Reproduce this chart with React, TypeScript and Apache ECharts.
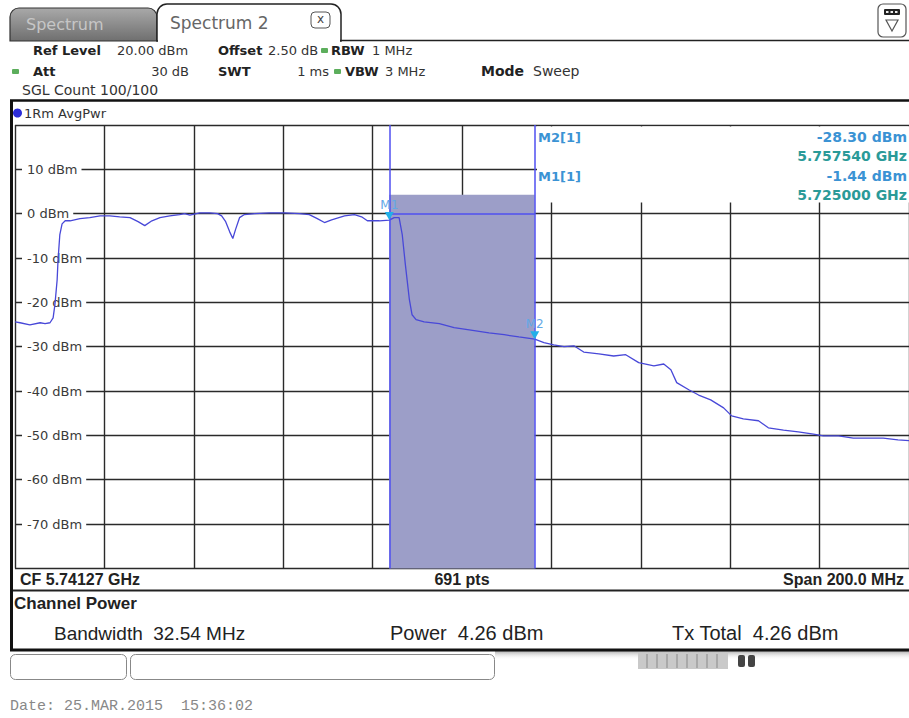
import React, { useEffect, useRef } from "react";
import * as echarts from "echarts";

// ---- Instrument settings ----
const CENTER_FREQ_MHZ = 5741.27;
const SPAN_MHZ = 200;
const X_DIVISIONS = 10;
const Y_MAX_DBM = 20;
const Y_MIN_DBM = -80;
const Y_STEP_DB = 10;
const SWEEP_POINTS = 691;

// ---- Trace 1 (AvgPwr) ----
const traceFreqMHz = [
  5641.3, 5642.4, 5644.6, 5646.9, 5648.0, 5649.1, 5649.8, 5650.2, 5650.7, 5650.9,
  5651.3, 5651.8, 5652.5, 5653.6, 5655.8, 5658.0, 5660.3, 5662.5, 5664.7, 5667.0,
  5668.8, 5670.3, 5671.9, 5673.7, 5675.9, 5678.1, 5679.2, 5680.4, 5682.6, 5684.8,
  5686.6, 5687.5, 5688.4, 5689.3, 5690.0, 5690.6, 5691.5, 5692.6, 5694.9, 5698.2,
  5701.6, 5704.9, 5707.1, 5708.9, 5710.5, 5712.1, 5715.0, 5717.2, 5718.8, 5720.1,
  5722.8, 5725.0, 5726.1, 5727.2, 5727.9, 5728.6, 5729.5, 5730.1, 5731.0, 5732.8,
  5736.2, 5739.5, 5742.9, 5747.3, 5750.7, 5754.0, 5757.54, 5759.6, 5761.8, 5764.1,
  5766.3, 5768.5, 5771.9, 5775.2, 5777.9, 5780.8, 5784.2, 5786.4, 5788.0, 5789.3,
  5792.0, 5794.2, 5796.9, 5799.8, 5801.6, 5804.2, 5807.6, 5809.8, 5813.2, 5816.5,
  5819.9, 5822.1, 5825.5, 5828.8, 5832.1, 5835.5, 5838.8, 5841.3,
];
const traceLevelDbm = [
  -24.4, -24.6, -25.1, -24.6, -24.8, -24.6, -23.5, -20.5, -14.9, -10.4,
  -4.7, -2.3, -1.6, -1.6, -1.1, -0.9, -0.5, -0.5, -0.7, -0.9,
  -1.8, -2.7, -1.6, -0.9, -0.5, -0.2, 0.0, -0.3, 0.2, 0.2,
  0.0, -0.5, -1.8, -4.1, -5.6, -3.6, -0.9, -0.2, 0.0, 0.2,
  0.2, 0.0, -0.2, -1.1, -2.0, -1.4, -0.5, -0.2, -0.7, -1.6,
  -1.6, -1.44, -0.9, -0.9, -4.7, -11.5, -19.4, -22.8, -23.9, -24.4,
  -24.8, -25.7, -26.2, -26.9, -27.3, -27.8, -28.3, -29.1, -29.6, -30.0,
  -29.8, -31.2, -31.6, -32.1, -31.8, -33.6, -34.3, -33.9, -35.2, -38.1,
  -39.7, -40.9, -42.0, -43.8, -45.6, -46.3, -46.7, -48.3, -48.8, -49.2,
  -49.7, -50.1, -50.1, -50.6, -50.6, -50.6, -51.0, -51.2,
];

// ---- Markers ----
const markerNames = ["M1", "M2"];
const markerFreqMHz = [5725.0, 5757.54];
const markerLevelDbm = [-1.44, -28.3];

// ---- Channel power ----
const channelPowerDbm = 4.26;
const channelTxTotalDbm = 4.26;
const channelBandwidthMHz = 32.54;
const channelDisplayLineDbm = 0;

const START_MHZ = CENTER_FREQ_MHZ - SPAN_MHZ / 2;
const X_STEP = SPAN_MHZ / X_DIVISIONS;
const toX = (f: number) => +(f - START_MHZ).toFixed(3);

const FONT = '"DejaVu Sans", Verdana, sans-serif';
const FONT_L = '"Liberation Sans", Arial, sans-serif';
const FONT_M = '"Liberation Mono", "DejaVu Sans Mono", monospace';

type TOpt = { fill?: string; size?: number; bold?: boolean; align?: string; family?: string; z?: number };
function txt(text: string, x: number, y: number, o: TOpt = {}) {
  return {
    type: "text",
    x,
    y,
    z: o.z ?? 20,
    style: {
      text,
      fill: o.fill ?? "#222",
      fontSize: o.size ?? 13,
      fontFamily: o.family ?? FONT,
      fontWeight: o.bold ? "bold" : "normal",
      align: o.align ?? "left",
      verticalAlign: "middle",
    },
  };
}
function rect(x: number, y: number, w: number, h: number, style: any, r: any = 0, z = 10) {
  return { type: "rect", z, shape: { x, y, width: w, height: h, r }, style };
}
function line(x1: number, y1: number, x2: number, y2: number, stroke: string, lw: number, z = 10) {
  return { type: "line", z, shape: { x1, y1, x2, y2 }, style: { stroke, lineWidth: lw } };
}

export default function App() {
  const ref = useRef<HTMLDivElement>(null);

  useEffect(() => {
    if (!ref.current) return;
    const chart = echarts.init(ref.current, null, { renderer: "svg" });

    const m = markerNames.map((n, i) => ({
      name: n,
      x: toX(markerFreqMHz[i]),
      y: markerLevelDbm[i],
      ghz: (markerFreqMHz[i] / 1000).toFixed(6) + " GHz",
      dbm: markerLevelDbm[i].toFixed(2) + " dBm",
    }));

    const green = "#5cae5c";
    const markerBlue = "#3b93d4";
    const markerTeal = "#2a9a98";

    const graphics: any[] = [
      // tabs
      rect(10, 8, 147, 33, {
        fill: new echarts.graphic.LinearGradient(0, 0, 0, 1, [
          { offset: 0, color: "#a9a9a9" },
          { offset: 1, color: "#6f6f6f" },
        ]),
        stroke: "#333",
        lineWidth: 1.2,
      }, [9, 9, 0, 0]),
      txt("Spectrum", 26, 24, { fill: "#c6c6c6", size: 16 }),
      rect(157, 4, 184, 37, { fill: "#fff", stroke: "#222", lineWidth: 1.5 }, [10, 10, 0, 0]),
      rect(158, 39, 182, 3, { fill: "#fff" }, 0, 11),
      txt("Spectrum 2", 170, 23, { fill: "#666", size: 17 }),
      rect(311, 12, 19, 16, { fill: "#fff", stroke: "#555", lineWidth: 1 }, 4, 12),
      txt("x", 320.5, 19, { fill: "#444", size: 12, align: "center" }),
      line(340, 40.5, 909, 40.5, "#222", 1.5),
      // top-right icon
      rect(878, 4, 28, 33, { fill: "#fff", stroke: "#555", lineWidth: 1.2 }, 5, 12),
      rect(884, 9, 16, 6, { fill: "#222" }, 1, 13),
      rect(886, 11, 2.5, 2, { fill: "#eee" }, 0, 14),
      rect(890.5, 11, 2.5, 2, { fill: "#eee" }, 0, 14),
      rect(895, 11, 2.5, 2, { fill: "#eee" }, 0, 14),
      { type: "polygon", z: 13, shape: { points: [[886, 20], [898, 20], [892, 31]] }, style: { fill: "none", stroke: "#555", lineWidth: 1.2 } },

      // info panel
      txt("Ref Level", 33, 50, { bold: true }),
      txt("20.00 dBm", 117, 50, { fill: "#333" }),
      txt("Offset", 218, 50, { bold: true }),
      txt("2.50 dB", 268, 50, { fill: "#333" }),
      rect(321, 48, 7, 5, { fill: green }, 1),
      txt("RBW", 331, 50, { bold: true }),
      txt("1 MHz", 372, 50, { fill: "#333" }),
      rect(12, 69, 7, 5, { fill: green }, 1),
      txt("Att", 33, 71, { bold: true }),
      txt("30 dB", 189, 71, { fill: "#333", align: "right" }),
      txt("SWT", 218, 71, { bold: true }),
      txt("1 ms", 329, 71, { fill: "#333", align: "right" }),
      rect(334, 69, 7, 5, { fill: green }, 1),
      txt("VBW", 345, 71, { bold: true }),
      txt("3 MHz", 385, 71, { fill: "#333" }),
      txt("Mode", 481, 71, { bold: true, size: 14 }),
      txt("Sweep", 533, 71, { fill: "#333", size: 14 }),
      txt("SGL Count 100/100", 22, 90, { fill: "#333", size: 14 }),

      // diagram frame
      line(10, 100.5, 909, 100.5, "#111", 2.5),
      { type: "circle", z: 12, shape: { cx: 17.5, cy: 113, r: 4.5 }, style: { fill: "#2c2cd8" } },
      txt("1Rm AvgPwr", 24, 113, { size: 13, fill: "#333" }),
      rect(10, 100, 3, 551, { fill: "#111" }, 0, 12),
      // marker info box (covers the grid)
      rect(537, 126.5, 374, 76, { fill: "#fff" }, 0, 1),
      txt("M2[1]", 538, 137, { bold: true, fill: markerBlue, size: 13 }),
      txt(m[1].dbm, 907, 137, { bold: true, fill: markerBlue, size: 14, align: "right" }),
      txt(m[1].ghz, 907, 156, { bold: true, fill: markerTeal, size: 14, align: "right" }),
      txt("M1[1]", 538, 176, { bold: true, fill: markerBlue, size: 13 }),
      txt(m[0].dbm, 907, 176, { bold: true, fill: markerBlue, size: 14, align: "right" }),
      txt(m[0].ghz, 907, 195, { bold: true, fill: markerTeal, size: 14, align: "right" }),

      // bottom row of diagram
      txt("CF " + (CENTER_FREQ_MHZ / 1000).toFixed(5) + " GHz", 20, 579, { bold: true, size: 16, family: FONT_L }),
      txt(SWEEP_POINTS + " pts", 462, 579, { bold: true, size: 16, family: FONT_L, align: "center" }),
      txt("Span " + SPAN_MHZ.toFixed(1) + " MHz", 904, 579, { bold: true, size: 16, family: FONT_L, align: "right" }),
      line(10, 590.5, 909, 590.5, "#222", 2),

      // channel power table
      txt("Channel Power", 14, 603, { bold: true, size: 17, family: FONT_L }),
      txt("Bandwidth  " + channelBandwidthMHz.toFixed(2) + " MHz", 54, 633, { size: 19, family: FONT_L }),
      txt("Power  " + channelPowerDbm.toFixed(2) + " dBm", 390, 633, { size: 20, family: FONT_L }),
      txt("Tx Total  " + channelTxTotalDbm.toFixed(2) + " dBm", 672, 633, { size: 20, family: FONT_L }),
      rect(495, 651, 414, 9, {
        fill: new echarts.graphic.LinearGradient(0, 0, 0, 1, [
          { offset: 0, color: "rgba(120,120,120,0.6)" },
          { offset: 1, color: "rgba(255,255,255,0)" },
        ]),
      }, 0, 9),
      line(10, 650, 909, 650, "#111", 3),

      // soft keys / status
      rect(10.5, 654.5, 116, 25, { fill: "#fff", stroke: "#888", lineWidth: 1 }, 5),
      rect(130.5, 654.5, 364, 25, { fill: "#fff", stroke: "#888", lineWidth: 1 }, 5),
      rect(638, 653, 90, 16, { fill: "#c9c9c9" }, 0),
      ...[646, 656, 666, 676, 686, 696, 706, 716].map((x) => rect(x, 654, 2, 14, { fill: "#a9a9a9" }, 0, 11)),
      rect(738, 655, 7, 12, { fill: "#444" }, 2, 11),
      rect(748, 655, 7, 12, { fill: "#444" }, 2, 11),

      txt("Date: 25.MAR.2015  15:36:02", 10, 706, { size: 15, family: FONT_M, fill: "#888" }),
    ];

    const option: any = {
      animation: false,
      backgroundColor: "#fff",
      grid: { left: 15, top: 125, width: 896, height: 443.4, containLabel: false },
      xAxis: {
        type: "value",
        min: 0,
        max: SPAN_MHZ,
        interval: X_STEP,
        axisLine: { show: false },
        axisTick: { show: false },
        axisLabel: { show: false },
        splitLine: { show: true, lineStyle: { color: "#2a2a2a", width: 1.4 } },
      },
      yAxis: {
        type: "value",
        min: Y_MIN_DBM,
        max: Y_MAX_DBM,
        interval: Y_STEP_DB,
        axisLine: { show: false },
        axisTick: { show: false },
        splitLine: { show: true, lineStyle: { color: "#2a2a2a", width: 1.4 } },
        axisLabel: {
          inside: true,
          margin: 7,
          showMinLabel: false,
          showMaxLabel: false,
          formatter: (v: number) => `${v} dBm`,
          color: "#3a3a3a",
          fontSize: 13,
          fontFamily: FONT,
          backgroundColor: "#fff",
          padding: [1, 4, 1, 5],
        },
      },
      series: [
        {
          type: "line",
          data: [],
          z: 1,
          silent: true,
          markArea: {
            silent: true,
            itemStyle: { color: "#9c9ec8", opacity: 1 },
            data: [[{ xAxis: m[0].x, yAxis: Y_MIN_DBM }, { xAxis: m[1].x, yAxis: channelPowerDbm }]],
          },
        },
        {
          type: "line",
          data: [],
          z: 2,
          silent: true,
          markLine: {
            silent: true,
            symbol: ["none", "none"],
            label: { show: false },
            lineStyle: { color: "#4f4ff0", width: 1.5, type: "solid" },
            data: [
              { xAxis: m[0].x },
              { xAxis: m[1].x },
              [{ coord: [m[0].x, channelDisplayLineDbm] }, { coord: [m[1].x, channelDisplayLineDbm] }],
            ],
          },
        },
        {
          type: "line",
          z: 3,
          silent: true,
          showSymbol: false,
          data: traceFreqMHz.map((f, i) => [toX(f), traceLevelDbm[i]]),
          lineStyle: { color: "#4848d8", width: 1.3 },
          markPoint: {
            silent: true,
            symbol: "path://M0,0 L10,0 L5,8 Z",
            symbolSize: [9, 8],
            symbolOffset: [0, -4],
            itemStyle: { color: "#22b0e8" },
            label: { show: true, position: "top", distance: 1, formatter: "{b}", color: "#62a8e6", fontSize: 12, fontFamily: FONT },
            data: m.map((p) => ({ name: p.name, coord: [p.x, p.y] })),
          },
        },
      ],
      graphic: { elements: graphics },
    };

    chart.setOption(option);
    return () => chart.dispose();
  }, []);

  return (
    <div
      ref={ref}
      style={{ position: "absolute", left: 0, top: 0, width: 909, height: 718, background: "#fff" }}
    />
  );
}
